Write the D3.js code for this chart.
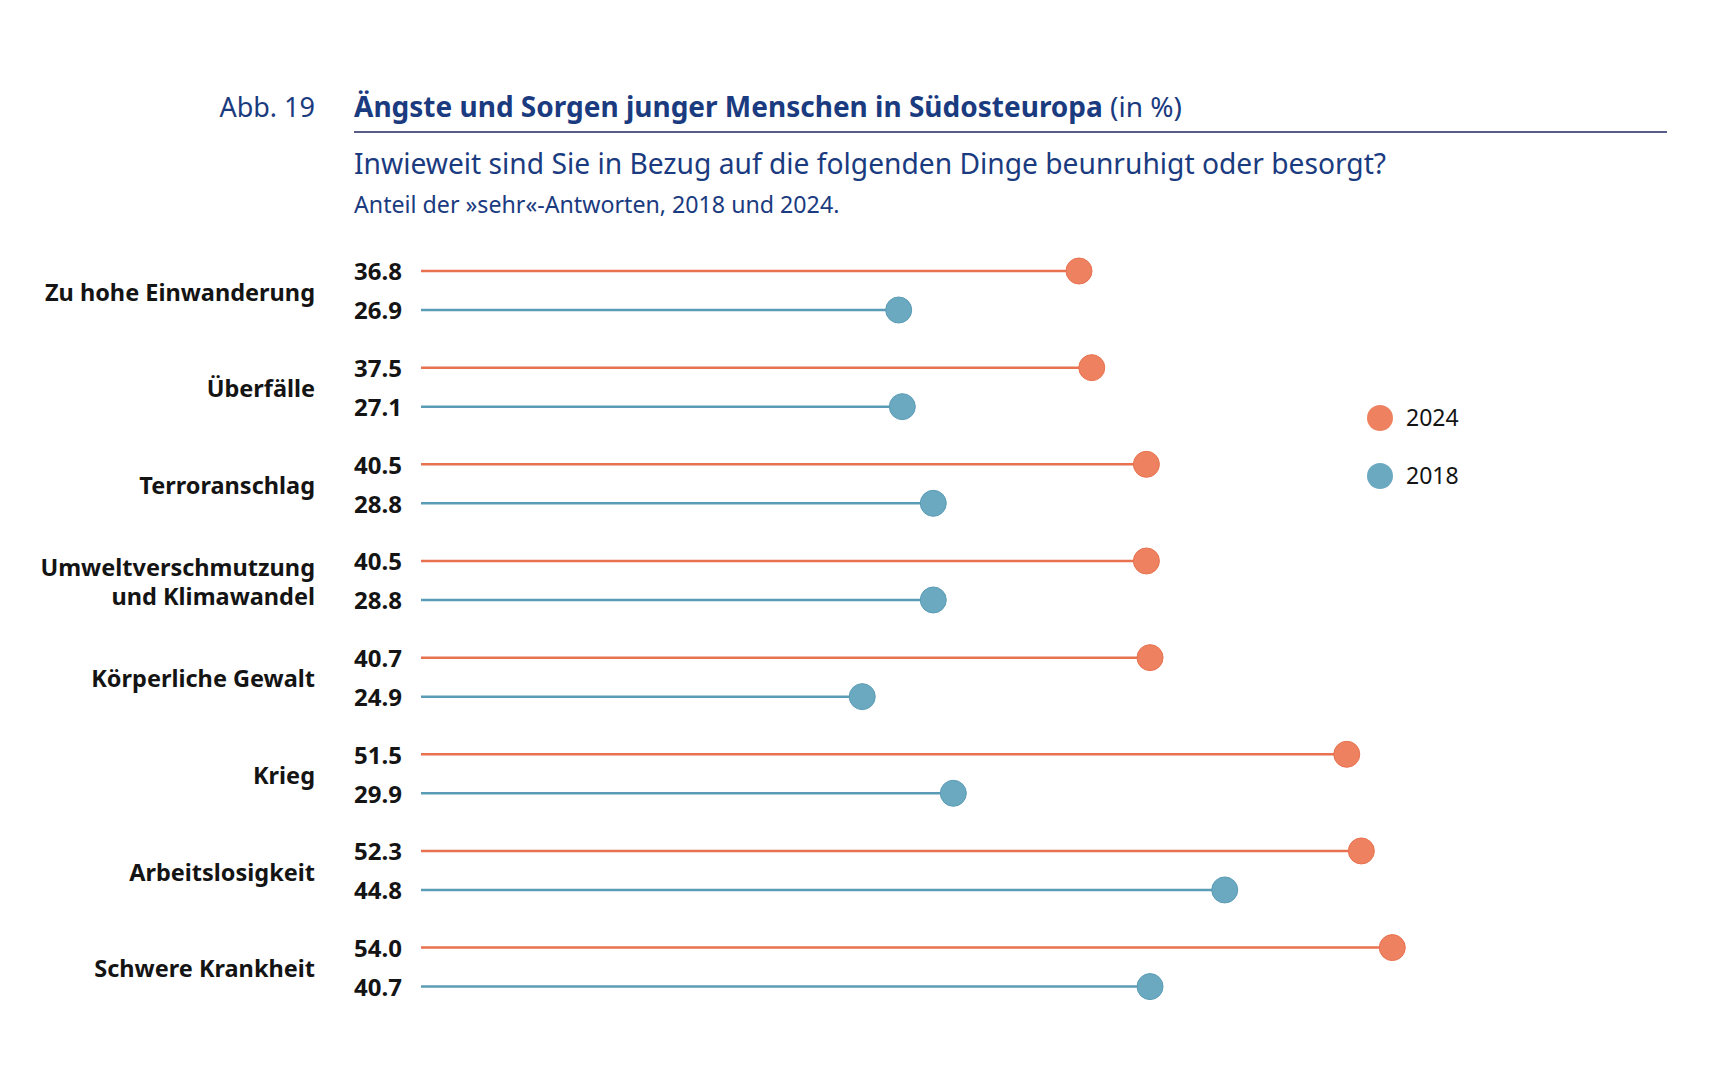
<!DOCTYPE html>
<html>
<head>
<meta charset="utf-8">
<script src="https://cdn.jsdelivr.net/npm/d3@7"></script>
<style>
  body { margin: 0; background: #fff; }
  svg { display: block; }
</style>
</head>
<body>
<svg id="chart"></svg>
<script>
const width = 1717
    , height = 1069
    , orange = '#ee8260'
    , orangeLine = '#e8714f'
    , blue = '#6ba9c1'
    , blueLine = '#5a9cb5'
    , navy = '#1b3b80'
    , textCol = '#141414'
    , headFont = '"Noto Sans", sans-serif'
    , bodyFont = '"Noto Sans", "Open Sans", sans-serif'
    ;

const categories = [
  ['Zu hohe Einwanderung'],
  ['Überfälle'],
  ['Terroranschlag'],
  ['Umweltverschmutzung', 'und Klimawandel'],
  ['Körperliche Gewalt'],
  ['Krieg'],
  ['Arbeitslosigkeit'],
  ['Schwere Krankheit']
];
const values2024 = [36.8, 37.5, 40.5, 40.5, 40.7, 51.5, 52.3, 54.0];
const values2018 = [26.9, 27.1, 28.8, 28.8, 24.9, 29.9, 44.8, 40.7];
const years = ['2024', '2018'];

const svg = d3.select('#chart')
  .attr('width', width)
  .attr('height', height)
  ;

// header
svg.append('text')
  .attr('x', 315).attr('y', 117)
  .attr('text-anchor', 'end')
  .style('font', `27px ${headFont}`)
  .attr('fill', navy)
  .text('Abb. 19');

const title = svg.append('text')
  .attr('x', 354).attr('y', 117)
  .style('font', `bold 28px ${headFont}`)
  .attr('fill', navy);
title.append('tspan').text('Ängste und Sorgen junger Menschen in Südosteuropa');
title.append('tspan').attr('font-weight', 'normal').text(' (in %)');

svg.append('line')
  .attr('x1', 354).attr('x2', 1667)
  .attr('y1', 132).attr('y2', 132)
  .attr('stroke', '#232660')
  .attr('stroke-width', 1.5);

svg.append('text')
  .attr('x', 354).attr('y', 174)
  .style('font', `28.2px ${headFont}`)
  .attr('fill', navy)
  .text('Inwieweit sind Sie in Bezug auf die folgenden Dinge beunruhigt oder besorgt?');

svg.append('text')
  .attr('x', 354).attr('y', 213)
  .style('font', `23.2px ${headFont}`)
  .attr('fill', navy)
  .text('Anteil der »sehr«-Antworten, 2018 und 2024.');

// scales
const x = d3.scaleLinear().domain([0, 54]).range([408.7, 1392.3]);
const y = d3.scalePoint().domain(d3.range(categories.length)).range([271, 947.6]);
const offset = 39;
const lineStart = 421;

const groups = svg.append('g')
  .selectAll('g')
  .data(categories.map((c, i) => ({ label: c, v24: values2024[i], v18: values2018[i], i })))
  .join('g')
    .attr('transform', d => `translate(0,${y(d.i)})`);

const series = [
  { key: 'v24', dy: 0, line: orangeLine, fill: orange },
  { key: 'v18', dy: offset, line: blueLine, fill: blue }
];

series.forEach(s => {
  groups.append('line')
    .attr('x1', lineStart)
    .attr('x2', d => x(d[s.key]))
    .attr('y1', s.dy).attr('y2', s.dy)
    .attr('stroke', s.line)
    .attr('stroke-width', 2.5);

  groups.append('circle')
    .attr('cx', d => x(d[s.key]))
    .attr('cy', s.dy)
    .attr('r', 13)
    .attr('fill', s.fill)
    .attr('stroke', s.line)
    .attr('stroke-width', 1);

  groups.append('text')
    .attr('x', 402)
    .attr('y', s.dy + 1)
    .attr('dy', '0.35em')
    .attr('text-anchor', 'end')
    .style('font', `bold 24px ${bodyFont}`)
    .attr('fill', textCol)
    .text(d => d3.format('.1f')(d[s.key]));
});

groups.append('text')
  .attr('text-anchor', 'end')
  .style('font', `bold 23.5px ${bodyFont}`)
  .attr('fill', textCol)
  .selectAll('tspan')
  .data(d => d.label.map((t, j) => ({ t, j, n: d.label.length })))
  .join('tspan')
    .attr('x', 315)
    .attr('y', d => offset / 2 + 2 + (d.j - (d.n - 1) / 2) * 29)
    .attr('dy', '0.35em')
    .text(d => d.t);

// legend
const legend = svg.append('g')
  .selectAll('g')
  .data(years)
  .join('g')
    .attr('transform', (d, i) => `translate(1380,${418 + i * 58})`);

legend.append('circle')
  .attr('r', 13)
  .attr('fill', (d, i) => i === 0 ? orange : blue);

legend.append('text')
  .attr('x', 26)
  .attr('dy', '0.35em')
  .style('font', `23px ${bodyFont}`)
  .attr('fill', textCol)
  .text(d => d);
</script>
</body>
</html>
